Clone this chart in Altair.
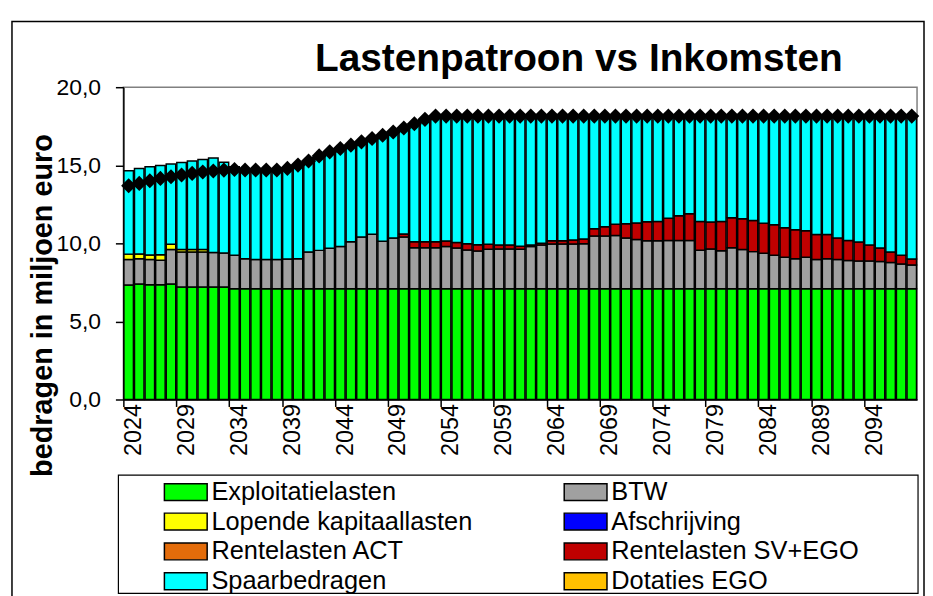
import altair as alt
import pandas as pd

years = list(range(2024, 2099))

series_names = [
    "Exploitatielasten", "BTW", "Lopende kapitaallasten", "Afschrijving",
    "Rentelasten ACT", "Rentelasten SV+EGO", "Spaarbedragen", "Dotaties EGO",
]
series_colors = [
    "#00FF00", "#A0A0A0", "#FFFF00", "#0000FF",
    "#E46C0A", "#C00000", "#00FFFF", "#FFC000",
]
# legend is filled column by column: left column first, then right column
legend_order = [
    "Exploitatielasten", "Lopende kapitaallasten", "Rentelasten ACT", "Spaarbedragen",
    "BTW", "Afschrijving", "Rentelasten SV+EGO", "Dotaties EGO",
]

exploitatielasten = [
    7.33, 7.40, 7.35, 7.35, 7.40, 7.20, 7.20, 7.20, 7.20, 7.20,
    7.10, 7.10, 7.10, 7.10, 7.10, 7.10, 7.10, 7.10, 7.10, 7.10,
    7.10, 7.10, 7.10, 7.10, 7.10, 7.10, 7.10, 7.10, 7.10, 7.10,
    7.10, 7.10, 7.10, 7.10, 7.10, 7.10, 7.10, 7.10, 7.10, 7.10,
    7.10, 7.10, 7.10, 7.10, 7.10, 7.10, 7.10, 7.10, 7.10, 7.10,
    7.10, 7.10, 7.10, 7.10, 7.10, 7.10, 7.10, 7.10, 7.10, 7.10,
    7.10, 7.10, 7.10, 7.10, 7.10, 7.10, 7.10, 7.10, 7.10, 7.10,
    7.10, 7.10, 7.10, 7.10, 7.10,
]
btw = [
    1.63, 1.62, 1.61, 1.57, 2.20, 2.25, 2.25, 2.25, 2.22, 2.18,
    2.14, 1.92, 1.86, 1.86, 1.86, 1.90, 1.92, 2.35, 2.45, 2.58,
    2.70, 3.00, 3.30, 3.49, 3.03, 3.24, 3.30, 2.62, 2.62, 2.62,
    2.70, 2.60, 2.47, 2.41, 2.52, 2.54, 2.54, 2.52, 2.70, 2.80,
    2.86, 2.86, 2.86, 2.88, 3.37, 3.37, 3.40, 3.24, 3.15, 3.06,
    3.06, 3.09, 3.09, 3.09, 2.46, 2.54, 2.43, 2.62, 2.50, 2.37,
    2.26, 2.14, 2.01, 1.92, 2.01, 1.86, 1.92, 1.86, 1.80, 1.77,
    1.77, 1.73, 1.67, 1.58, 1.52,
]
lopende_kapitaallasten = [
    0.35, 0.30, 0.30, 0.35, 0.35, 0.15, 0.15, 0.15, 0.0, 0.0,
    0.0, 0.0, 0.0, 0.0, 0.0, 0.0, 0.0, 0.0, 0.0, 0.0,
    0.0, 0.0, 0.0, 0.0, 0.0, 0.0, 0.0, 0.0, 0.0, 0.0,
    0.0, 0.0, 0.0, 0.0, 0.0, 0.0, 0.0, 0.0, 0.0, 0.0,
    0.0, 0.0, 0.0, 0.0, 0.0, 0.0, 0.0, 0.0, 0.0, 0.0,
    0.0, 0.0, 0.0, 0.0, 0.0, 0.0, 0.0, 0.0, 0.0, 0.0,
    0.0, 0.0, 0.0, 0.0, 0.0, 0.0, 0.0, 0.0, 0.0, 0.0,
    0.0, 0.0, 0.0, 0.0, 0.0,
]
afschrijving = [0.0] * 75
rentelasten_act = [0.0] * 75
rentelasten_sv_ego = [
    0.0, 0.0, 0.0, 0.0, 0.0, 0.0, 0.0, 0.0, 0.0, 0.0,
    0.0, 0.0, 0.0, 0.0, 0.0, 0.0, 0.0, 0.0, 0.0, 0.0,
    0.0, 0.0, 0.0, 0.0, 0.0, 0.0, 0.20, 0.38, 0.38, 0.38,
    0.35, 0.35, 0.40, 0.40, 0.32, 0.25, 0.25, 0.20, 0.10, 0.10,
    0.20, 0.20, 0.25, 0.30, 0.46, 0.60, 0.72, 0.91, 1.05, 1.22,
    1.24, 1.42, 1.57, 1.70, 1.84, 1.72, 1.87, 1.92, 1.97, 1.99,
    1.93, 1.95, 1.89, 1.85, 1.70, 1.61, 1.55, 1.38, 1.29, 1.22,
    1.03, 0.87, 0.68, 0.56, 0.38,
]
spaarbedragen = [
    5.34, 5.48, 5.64, 5.72, 5.13, 5.58, 5.67, 5.77, 6.04, 5.82,
    5.66, 5.68, 5.74, 5.74, 5.74, 5.80, 5.99, 5.82, 6.05, 6.18,
    6.27, 6.19, 6.10, 6.12, 6.79, 6.79, 6.79, 7.56, 7.84, 8.05,
    8.00, 8.10, 8.18, 8.24, 8.21, 8.26, 8.26, 8.33, 8.25, 8.15,
    7.99, 7.99, 7.94, 7.87, 7.22, 7.08, 6.93, 6.90, 6.85, 6.77,
    6.75, 6.54, 6.39, 6.26, 6.75, 6.79, 6.75, 6.51, 6.58, 6.69,
    6.86, 6.96, 7.15, 7.28, 7.34, 7.58, 7.58, 7.81, 7.96, 8.06,
    8.25, 8.45, 8.70, 8.91, 9.15,
]
dotaties_ego = [0.0] * 75
inkomsten = [
    13.69, 13.84, 14.01, 14.16, 14.27, 14.38, 14.48, 14.57, 14.63, 14.69,
    14.73, 14.70, 14.70, 14.70, 14.70, 14.80, 15.01, 15.27, 15.60, 15.86,
    16.07, 16.29, 16.50, 16.71, 16.92, 17.13, 17.39, 17.66, 17.94, 18.15,
    18.15, 18.15, 18.15, 18.15, 18.15, 18.15, 18.15, 18.15, 18.15, 18.15,
    18.15, 18.15, 18.15, 18.15, 18.15, 18.15, 18.15, 18.15, 18.15, 18.15,
    18.15, 18.15, 18.15, 18.15, 18.15, 18.15, 18.15, 18.15, 18.15, 18.15,
    18.15, 18.15, 18.15, 18.15, 18.15, 18.15, 18.15, 18.15, 18.15, 18.15,
    18.15, 18.15, 18.15, 18.15, 18.15,
]
x_tick_years = [2024, 2029, 2034, 2039, 2044, 2049, 2054, 2059, 2064,
                2069, 2074, 2079, 2084, 2089, 2094]
y_ticks = [0, 5, 10, 15, 20]

title_text = "Lastenpatroon vs Inkomsten"
y_title = "bedragen in miljoen euro"

FONT = "Liberation Sans"

all_series = [exploitatielasten, btw, lopende_kapitaallasten, afschrijving,
              rentelasten_act, rentelasten_sv_ego, spaarbedragen, dotaties_ego]
rows = []
for k, (name, vals) in enumerate(zip(series_names, all_series)):
    for yr, v in zip(years, vals):
        rows.append({"jaar": yr, "serie": name, "waarde": v, "volgorde": k})
bars_df = pd.DataFrame(rows)
line_df = pd.DataFrame({"jaar": years, "inkomsten": inkomsten})
one = pd.DataFrame({"a": [0]})

color_of = dict(zip(series_names, series_colors))

x_enc = alt.X(
    "jaar:O",
    scale=alt.Scale(paddingInner=0.1, paddingOuter=0.05),
    axis=alt.Axis(
        title=None, values=x_tick_years, labelAngle=270, labelFontSize=23.5,
        labelFont=FONT, labelColor="black", bandPosition=0, labelOffset=5.3,
        tickSize=7, tickColor="black", tickWidth=1.5, labelPadding=-3,
        domainColor="black", domainWidth=1.5, grid=False,
    ),
)

bars = alt.Chart(bars_df).transform_filter("datum.waarde > 0").mark_bar(
    stroke="black", strokeWidth=1.5
).encode(
    x=x_enc,
    y=alt.Y(
        "waarde:Q", stack="zero",
        scale=alt.Scale(domain=[0, 20], nice=False),
        axis=alt.Axis(
            title=y_title, values=y_ticks,
            labelExpr="replace(format(datum.value, '.1f'), '.', ',')",
            labelFontSize=23, labelFont=FONT, labelColor="black",
            tickSize=8, tickColor="black", tickWidth=1.5, labelPadding=15,
            domainColor="black", domainWidth=1.5, grid=False,
            titleFont=FONT, titleFontSize=29, titleFontWeight="bold",
            titleColor="black", titleAngle=270, titleX=-72, titleY=219,
            titleAlign="center", titleBaseline="alphabetic",
        ),
    ),
    color=alt.Color(
        "serie:N",
        scale=alt.Scale(domain=legend_order,
                        range=[color_of[n] for n in legend_order]),
        legend=alt.Legend(
            title=None, orient="none", legendX=50, legendY=394, columns=2,
            columnPadding=89, rowPadding=3, labelFontSize=25.5, labelFont=FONT,
            labelColor="black", labelLimit=500, labelOffset=13,
            symbolType="M-2.15,-0.85H2.15V0.85H-2.15Z", symbolSize=400,
            symbolStrokeColor="black", symbolStrokeWidth=1.5,
            symbolOpacity=1, padding=0,
        ),
    ),
    order=alt.Order("volgorde:Q"),
)

line = alt.Chart(line_df).mark_line(
    color="black", strokeWidth=4,
    point=alt.OverlayMarkDef(shape="diamond", size=230, filled=True,
                             color="black"),
).encode(x=alt.X("jaar:O"), y=alt.Y("inkomsten:Q"))

outer_frame = alt.Chart(one).mark_rect(
    filled=False, stroke="black", strokeWidth=1.5
).encode(x=alt.value(-112), x2=alt.value(805), y=alt.value(-66),
         y2=alt.value(520))

legend_frame = alt.Chart(one).mark_rect(
    filled=False, stroke="black", strokeWidth=1.2
).encode(x=alt.value(-5), x2=alt.value(799), y=alt.value(390),
         y2=alt.value(509))

title = alt.Chart(one).mark_text(
    text=title_text, font=FONT, fontSize=39, fontWeight="bold",
    color="black", align="center", baseline="alphabetic",
).encode(x=alt.value(458), y=alt.value(-16))

chart = alt.layer(outer_frame, legend_frame, bars, line, title).properties(
    width=798, height=314,
    padding={"left": 3, "top": 11, "right": 0, "bottom": 0},
).configure_view(stroke="#808080", strokeWidth=1.5)

chart.save("out.html", embed_options={"renderer": "svg", "actions": False})
